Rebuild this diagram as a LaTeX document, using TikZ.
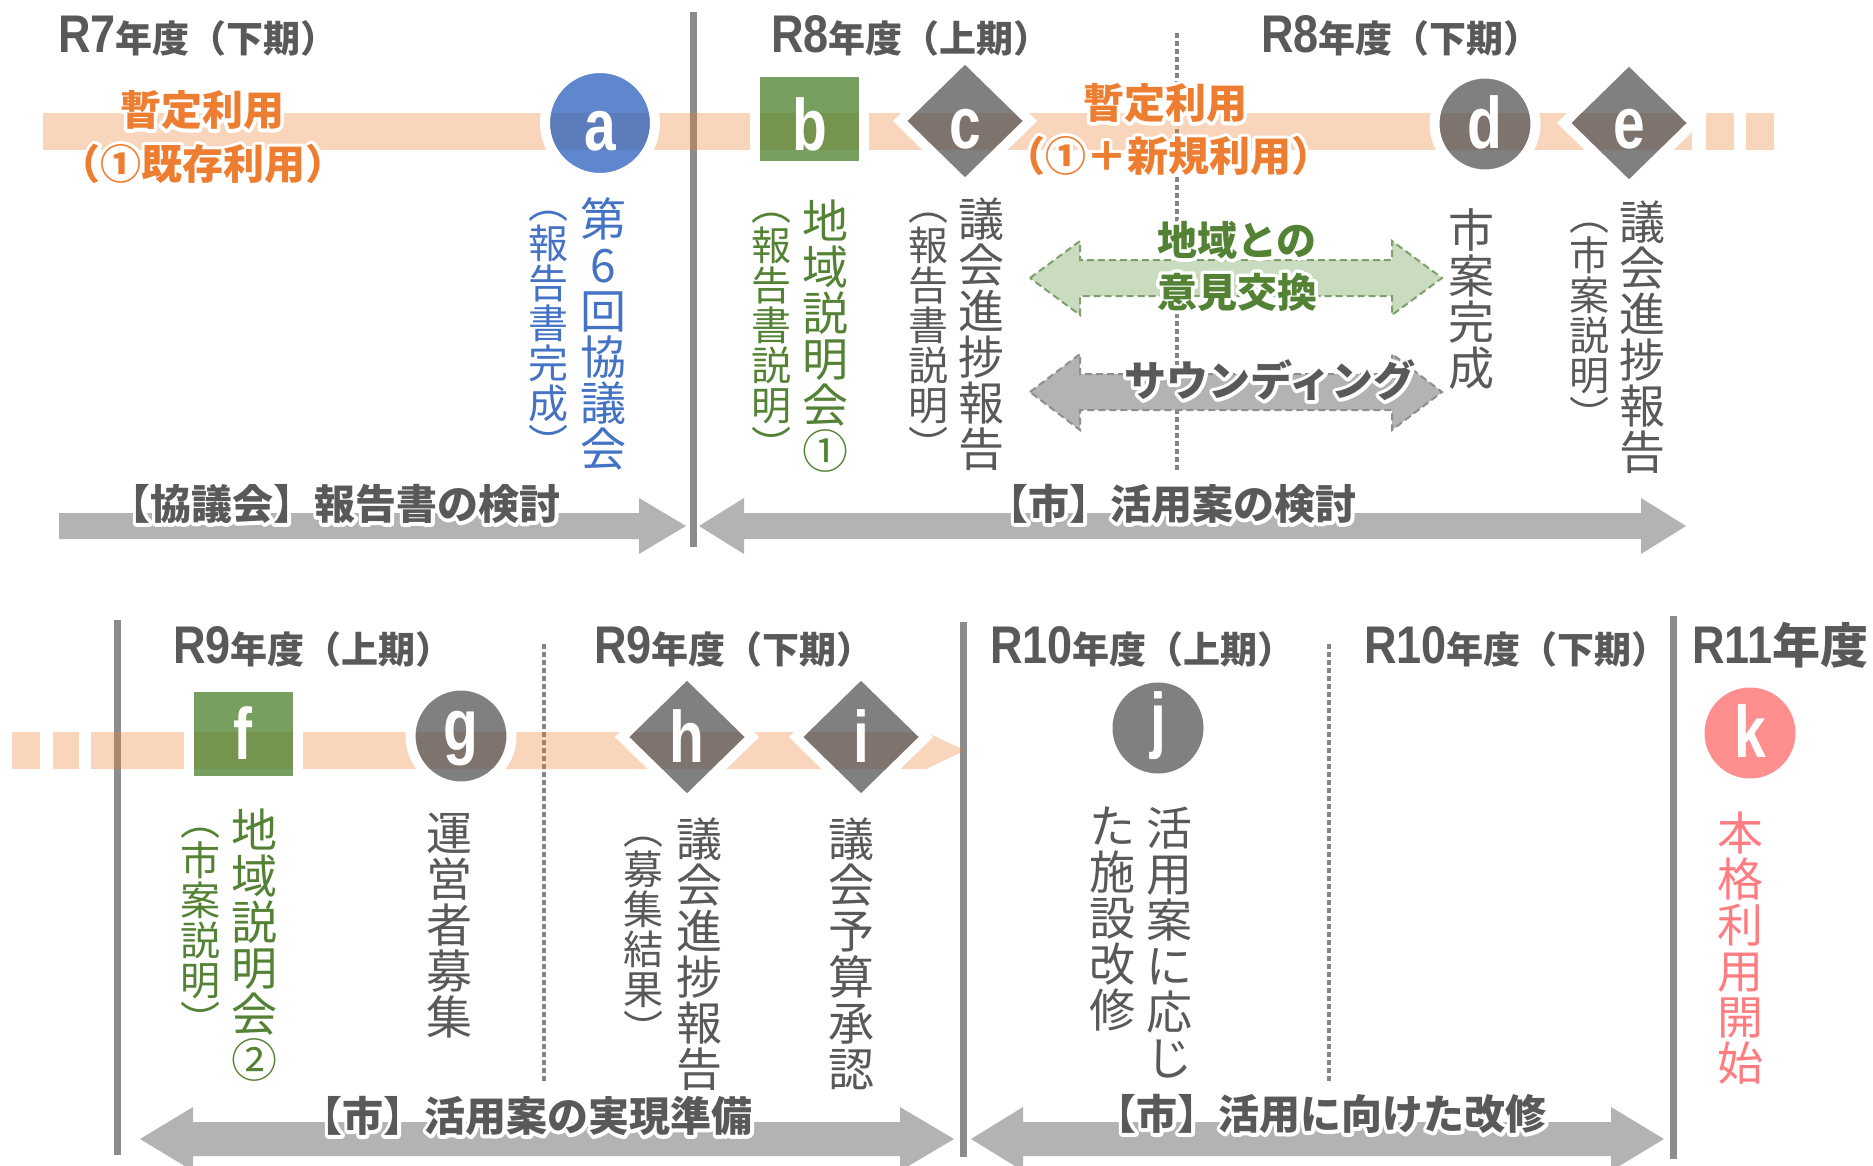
\documentclass[tikz,border=0pt]{standalone}
\usepackage{fontspec}
\setmainfont{Noto Sans CJK JP}
\newfontfamily\narrowlat[FakeStretch=0.85]{Liberation Sans}
\newfontfamily\letterfont[FakeStretch=0.78]{Liberation Sans}
\usetikzlibrary{shapes.geometric}
\definecolor{txtgray}{HTML}{595959}
\definecolor{lingray}{HTML}{8C8C8C}
\definecolor{dotgray}{HTML}{858585}
\definecolor{bandor}{HTML}{ED7D31}
\definecolor{shpgray}{HTML}{4F4F4F}
\definecolor{shpgrayop}{HTML}{808080}
\definecolor{shpblue}{HTML}{215ABC}
\definecolor{shpgreen}{HTML}{437B23}
\definecolor{shppink}{HTML}{FF8F8F}
\definecolor{txtblue}{HTML}{4472C4}
\definecolor{txtgreen}{HTML}{548235}
\definecolor{txtpink}{HTML}{FF7C80}
\definecolor{txtorange}{HTML}{ED7D31}
\definecolor{arrgray}{HTML}{B3B3B3}
\definecolor{arrgreen}{HTML}{CADCBF}
\definecolor{arrgreenedge}{HTML}{7F9F6B}
\definecolor{arrgrayedge}{HTML}{8E8E8E}
\newsavebox\halobox
\newcommand\halo[1]{\setbox\halobox\hbox{#1}%
  \rlap{\special{pdf:code q 1 Tr 7 w 1 j 1 1 1 RG}\usebox\halobox\special{pdf:code Q}}%
  \usebox\halobox}
\newcommand\rn[1]{{\narrowlat\bfseries\fontsize{53pt}{53pt}\selectfont#1}}
\tikzset{
  divider/.style={draw=lingray, line width=7pt},
  halfdiv/.style={draw=dotgray, line width=4.5pt, dash pattern=on 4.5pt off 3.5pt},
  evcirc/.style={circle, inner sep=0pt, minimum size=101pt},
  evsq/.style={rectangle, inner sep=0pt, minimum width=109pt, minimum height=94pt},
  evdia/.style={diamond, inner sep=0pt, minimum width=134pt, minimum height=131pt},
  rim/.style={draw=white, line width=10pt, fill opacity=0.72},
  evletter/.style={anchor=base, inner sep=0pt, text=white, font=\letterfont\bfseries\fontsize{73pt}{73pt}\selectfont},
  band/.style={fill=bandor, fill opacity=0.32},
  vmain/.style={anchor=north, align=center, inner sep=0pt, font=\fontsize{46pt}{46pt}\selectfont},
  vsub/.style={anchor=north, align=center, inner sep=0pt, font=\fontsize{40pt}{40pt}\selectfont},
  ttl/.style={anchor=base west, inner sep=0pt, text=txtgray, font=\bfseries\fontsize{37pt}{37pt}\selectfont},
  tag/.style={inner sep=0pt, font=\bfseries\fontsize{41pt}{41pt}\selectfont},
  barrow/.style={fill=arrgray},
}
\begin{document}
\begin{tikzpicture}[x=1pt,y=-1pt]
\useasboundingbox (0,0) rectangle (1873,1165);
\fill[white] (0,0) rectangle (1873,1165);
% dividers
\draw[divider] (693,12) -- (693,547);
\draw[divider] (117,620) -- (117,1155);
\draw[divider] (963,622) -- (963,1157);
\draw[divider] (1673,616) -- (1673,1159);
\draw[halfdiv] (1177,33) -- (1177,470);
\draw[halfdiv] (544,644) -- (544,1081);
\draw[halfdiv] (1329,644) -- (1329,1083);
% bands
\fill[band] (43,113) rectangle (1692,150);
\fill[band] (1706,113) rectangle (1734,150);
\fill[band] (1746,113) rectangle (1774,150);
\fill[band] (12,732) rectangle (40,769);
\fill[band] (53,732) rectangle (79,769);
\fill[band] (91,732) -- (926,732) -- (965,750.5) -- (926,769) -- (91,769) -- cycle;
% event shapes
\node[evcirc, minimum size=110pt, fill=shpblue, rim] (a) at (600,123) {};
\node[evsq, fill=shpgreen, rim] (b) at (809.5,119) {};
\node[evdia, fill=shpgray, rim] (c) at (965,121) {};
\node[evcirc, fill=shpgray, rim] (d) at (1485,124) {};
\node[evdia, fill=shpgray, rim] (e) at (1629,123) {};
\node[evsq, fill=shpgreen, rim] (f) at (243,734) {};
\node[evcirc, fill=shpgray, rim] (g) at (461,736) {};
\node[evdia, fill=shpgray, rim] (h) at (687,737) {};
\node[evdia, fill=shpgray, rim] (i) at (861,737) {};
\node[evcirc, fill=shpgrayop, minimum size=91pt] (j) at (1158,728) {};
\node[evcirc, fill=shppink, minimum size=91pt] (k) at (1750,733) {};
% letters
\node[evletter] (a-l) at (600,150) {a};
\node[evletter] (b-l) at (809.5,150) {b};
\node[evletter] (c-l) at (965,148) {c};
\node[evletter] (d-l) at (1485,148) {d};
\node[evletter] (e-l) at (1629,148) {e};
\node[evletter] (f-l) at (243,759) {f};
\node[evletter] (g-l) at (461,750) {g};
\node[evletter] (h-l) at (687,762) {h};
\node[evletter] (i-l) at (861,762) {i};
\node[evletter] (j-l) at (1158,744) {j};
\node[evletter] (k-l) at (1750,757) {k};
% titles
\node[ttl] (t1) at (58,52) {\rn{R7}年度（下期）};
\node[ttl] (t2) at (771,52) {\rn{R8}年度（上期）};
\node[ttl] (t3) at (1261,52) {\rn{R8}年度（下期）};
\node[ttl] (t4) at (173,663) {\rn{R9}年度（上期）};
\node[ttl] (t5) at (594,663) {\rn{R9}年度（下期）};
\node[ttl] (t6) at (990,663) {\rn{R10}年度（上期）};
\node[ttl] (t7) at (1364,663) {\rn{R10}年度（下期）};
\node[ttl, font=\bfseries\fontsize{48pt}{48pt}\selectfont] (t8) at (1692,663) {\rn{R11}年度};
% provisional use labels
\node[tag, text=txtorange] (u1a) at (202,110) {\halo{暫定利用}};
\node[tag, text=txtorange] (u1b) at (203,164) {\halo{（①既存利用）}};
\node[tag, text=txtorange] (u2a) at (1165,103) {\halo{暫定利用}};
\node[tag, text=txtorange] (u2b) at (1168,156) {\halo{（①＋新規利用）}};
% vertical texts, top row
\node[vmain, text=txtblue] (a-t) at (603,197) {第\\6\\回\\協\\議\\会};
\node[vsub, text=txtblue] (a-p) at (548,211) {︵\\報\\告\\書\\完\\成\\︶};
\node[vmain, text=txtgreen] (b-t) at (825,200) {地\\域\\説\\明\\会\\①};
\node[vsub, text=txtgreen] (b-p) at (771,213) {︵\\報\\告\\書\\説\\明\\︶};
\node[vmain, text=txtgray] (c-t) at (981,198) {議\\会\\進\\捗\\報\\告};
\node[vsub, text=txtgray] (c-p) at (928,213) {︵\\報\\告\\書\\説\\明\\︶};
\node[vmain, text=txtgray] (d-t) at (1471,208) {市\\案\\完\\成};
\node[vmain, text=txtgray] (e-t) at (1642,201) {議\\会\\進\\捗\\報\\告};
\node[vsub, text=txtgray] (e-p) at (1589,223) {︵\\市\\案\\説\\明\\︶};
% vertical texts, bottom row
\node[vmain, text=txtgreen] (f-t) at (254,809) {地\\域\\説\\明\\会\\②};
\node[vsub, text=txtgreen] (f-p) at (200,828) {︵\\市\\案\\説\\明\\︶};
\node[vmain, text=txtgray] (g-t) at (449,813) {運\\営\\者\\募\\集};
\node[vmain, text=txtgray] (h-t) at (699,818) {議\\会\\進\\捗\\報\\告};
\node[vsub, text=txtgray] (h-p) at (643,837) {︵\\募\\集\\結\\果\\︶};
\node[vmain, text=txtgray] (i-t) at (851,818) {議\\会\\予\\算\\承\\認};
\node[vmain, text=txtgray] (j-t1) at (1169,807) {活\\用\\案\\に\\応\\じ};
\node[vmain, text=txtgray] (j-t2) at (1112,807) {た\\施\\設\\改\\修};
\node[vmain, text=txtpink] (k-t) at (1740,812) {本\\格\\利\\用\\開\\始};
% dashed double arrows
\draw[fill=arrgreen, draw=arrgreenedge, line width=2pt, dash pattern=on 7pt off 4pt]
  (1030,278) -- (1080,241) -- (1080,260) -- (1392,260) -- (1392,241) -- (1442,278)
  -- (1392,315) -- (1392,296) -- (1080,296) -- (1080,315) -- cycle;
\draw[fill=arrgray, draw=arrgrayedge, line width=2pt, dash pattern=on 7pt off 4pt]
  (1030,392) -- (1080,354) -- (1080,374) -- (1392,374) -- (1392,354) -- (1442,392)
  -- (1392,430) -- (1392,410) -- (1080,410) -- (1080,430) -- cycle;
\node[tag, text=txtgreen, font=\bfseries\fontsize{40pt}{40pt}\selectfont] (l5) at (1237,240) {\halo{地域との}};
\node[tag, text=txtgreen, font=\bfseries\fontsize{40pt}{40pt}\selectfont] (l6) at (1237,292) {\halo{意見交換}};
\node[tag, text=txtgray, font=\bfseries\fontsize{42pt}{42pt}\selectfont] (l7) at (1270,380) {\halo{サウンディング}};
% period arrows
\fill[barrow] (59,513) -- (639,513) -- (639,498) -- (686,526) -- (639,554) -- (639,539) -- (59,539) -- cycle;
\fill[barrow] (699,526) -- (744,498) -- (744,513) -- (1641,513) -- (1641,498) -- (1686,526)
  -- (1641,554) -- (1641,539) -- (744,539) -- (744,554) -- cycle;
\fill[barrow] (140,1139) -- (193,1107) -- (193,1122) -- (900,1122) -- (900,1107) -- (954,1139)
  -- (900,1171) -- (900,1156) -- (193,1156) -- (193,1171) -- cycle;
\fill[barrow] (971,1139) -- (1023,1107) -- (1023,1122) -- (1611,1122) -- (1611,1107) -- (1664,1139)
  -- (1611,1171) -- (1611,1156) -- (1023,1156) -- (1023,1171) -- cycle;
\node[tag, text=txtgray] (l1) at (335,504) {\halo{【協議会】報告書の検討}};
\node[tag, text=txtgray] (l2) at (1172,504) {\halo{【市】活用案の検討}};
\node[tag, text=txtgray] (l3) at (527,1116) {\halo{【市】活用案の実現準備}};
\node[tag, text=txtgray] (l4) at (1321,1114) {\halo{【市】活用に向けた改修}};
\end{tikzpicture}
\end{document}
